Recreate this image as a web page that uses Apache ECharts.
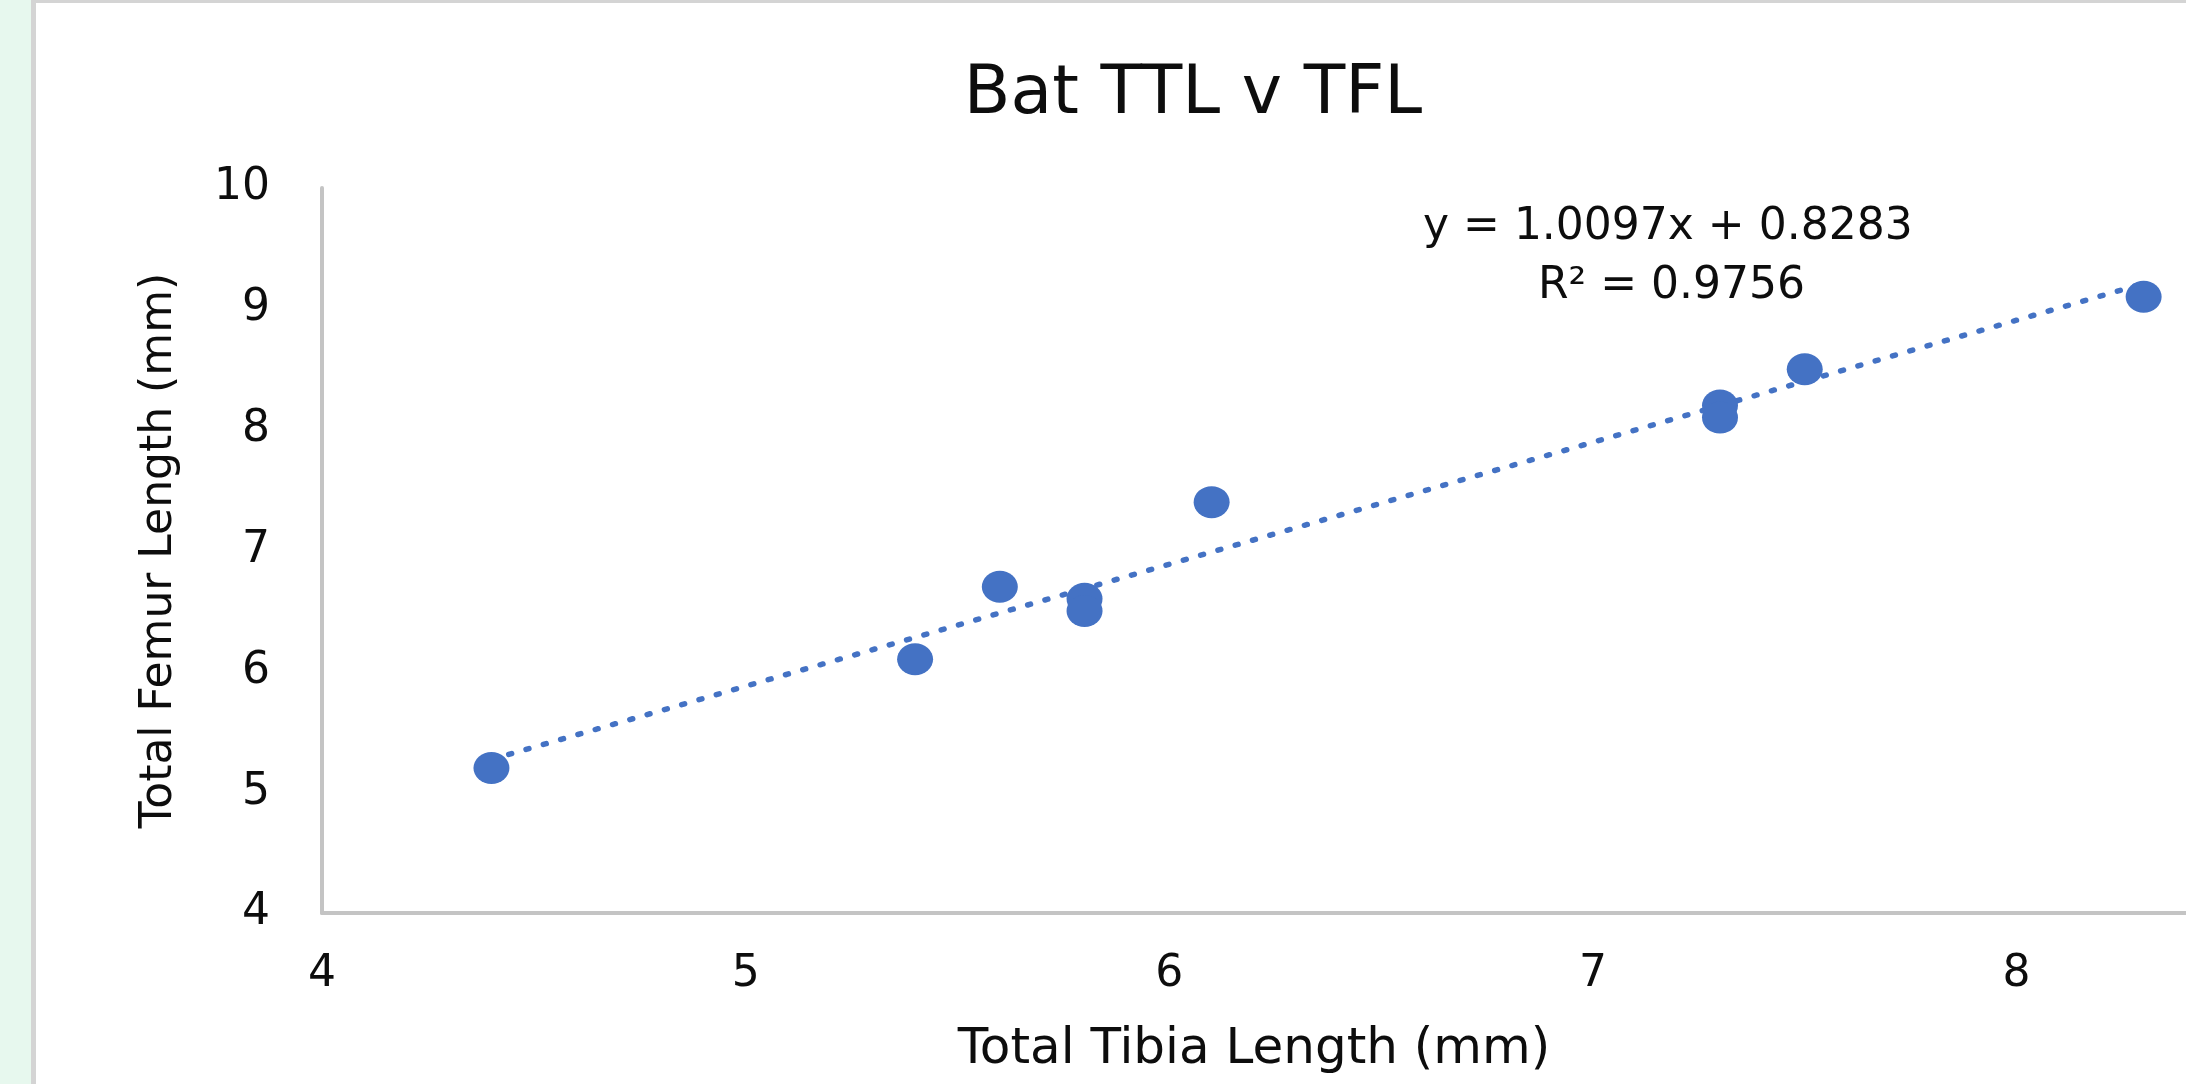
<!DOCTYPE html>
<html>
<head>
<meta charset="utf-8">
<title>Bat TTL v TFL</title>
<script src="https://cdn.jsdelivr.net/npm/echarts@6/dist/echarts.min.js"></script>
<style>
  html, body { margin: 0; padding: 0; background: #e7f8ee; overflow: hidden; }
  #chart {
    position: absolute; left: 31px; top: 0;
    width: 2150px; height: 1081px;
    background: #fff;
    border-left: 5px solid #d4d4d4;
    border-top: 3px solid #d4d4d4;
  }
</style>
</head>
<body>
<div id="chart"></div>
<script>
// tibia (x) and femur (y) lengths, mm
const tibia = [4.4, 5.4, 5.6, 5.8, 5.8, 6.1, 7.3, 7.3, 7.5, 8.3];
const femur = [5.2, 6.1, 6.7, 6.6, 6.5, 7.4, 8.2, 8.1, 8.5, 9.1];

// trendline as printed on the chart
const slope = 1.0097;
const intercept = 0.8283;
const rSquared = 0.9756;

const xTicks = [4, 5, 6, 7, 8];
const yTicks = [4, 5, 6, 7, 8, 9, 10];

const BLUE = '#4472C4';
const FONT = 'DejaVu Sans';

const points = tibia.map((x, i) => [x, femur[i]]);
const xMin = Math.min(...tibia), xMax = Math.max(...tibia);
const trend = [xMin, xMax].map(x => [x, slope * x + intercept]);

const chart = echarts.init(document.getElementById('chart'));

chart.setOption({
  animation: false,
  title: {
    text: 'Bat TTL v TFL',
    left: 1152, top: 53, textAlign: 'center',
    textStyle: { fontFamily: FONT, fontSize: 68, fontWeight: 'normal', color: '#0d0d0d' }
  },
  grid: { left: 286, right: 0, top: 185, bottom: 171, containLabel: false },
  xAxis: {
    type: 'value',
    min: xTicks[0], max: 8.4, interval: 1,
    name: 'Total Tibia Length (mm)',
    nameLocation: 'middle', nameGap: 112,
    nameTextStyle: { fontFamily: FONT, fontSize: 50, color: '#0d0d0d' },
    axisLine: { show: true, lineStyle: { color: '#c4c4c4', width: 4 } },
    axisTick: { show: false },
    splitLine: { show: false },
    axisLabel: {
      fontFamily: FONT, fontSize: 44, color: '#0d0d0d', margin: 40,
      showMaxLabel: false,
      formatter: v => xTicks.includes(v) ? String(v) : ''
    }
  },
  yAxis: {
    type: 'value',
    min: yTicks[0], max: yTicks[yTicks.length - 1], interval: 1,
    name: 'Total Femur Length (mm)',
    nameLocation: 'middle', nameGap: 140,
    nameTextStyle: { fontFamily: FONT, fontSize: 44, color: '#0d0d0d' },
    axisLine: { show: true, lineStyle: { color: '#c4c4c4', width: 4 } },
    axisTick: { show: false },
    splitLine: { show: false },
    axisLabel: { fontFamily: FONT, fontSize: 44, color: '#0d0d0d', margin: 52 }
  },
  graphic: [
    {
      type: 'text', left: 1632 - 245, top: 203,
      style: {
        text: 'y = ' + slope.toFixed(4) + 'x + ' + intercept.toFixed(4),
        font: '44px "DejaVu Sans"', fill: '#0d0d0d'
      }
    },
    {
      type: 'text', left: 1632 - 130, top: 262,
      style: {
        text: 'R\u00b2 = ' + rSquared.toFixed(4),
        font: '44px "DejaVu Sans"', fill: '#0d0d0d'
      }
    }
  ],
  series: [
    {
      name: 'Linear (TFL)',
      type: 'line',
      data: trend,
      symbol: 'none',
      z: 1,
      lineStyle: { color: BLUE, width: 5.5, type: [3, 15], cap: 'round' }
    },
    {
      name: 'TFL',
      type: 'scatter',
      data: points,
      symbol: 'circle',
      symbolSize: [36, 32],
      z: 3,
      itemStyle: { color: BLUE, opacity: 1 }
    }
  ]
});

window.addEventListener('resize', () => chart.resize());
</script>
</body>
</html>
